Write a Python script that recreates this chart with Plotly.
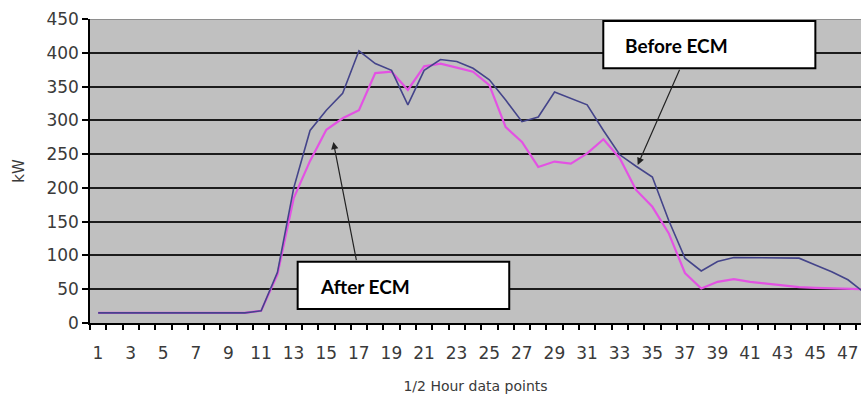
import plotly.graph_objects as go

# Half-hour demand profile, kW
points = list(range(1, 49))
before_ecm = [15, 15, 15, 15, 15, 15, 15, 15, 15, 15,
              18, 75, 200, 285, 315, 340, 403, 384, 374, 323,
              374, 390, 387, 377, 360, 330, 298, 305, 342, 333,
              323, 285, 249, 232, 216, 152, 96, 77, 91, 97,
              97, 97, 97, 96, 86, 76, 64, 45]
after_ecm = [15, 15, 15, 15, 15, 15, 15, 15, 15, 15,
             18, 72, 185, 240, 286, 303, 315, 370, 372, 345,
             380, 384, 378, 372, 352, 290, 268, 231, 239, 236,
             251, 272, 244, 197, 172, 133, 74, 51, 61, 65,
             61, 58, 55, 53, 52, 51, 50, 50]

y_ticks = list(range(0, 451, 50))
# tick marks sit on category boundaries; every other category is labelled
x_tick_vals = [k - 0.5 for k in points]
x_tick_text = [str(k) if k % 2 == 1 else "" for k in points]

fig = go.Figure()
fig.add_trace(go.Scatter(x=points, y=after_ecm, mode="lines", name="After ECM",
                         line=dict(color="#e352e3", width=2.2)))
fig.add_trace(go.Scatter(x=points, y=before_ecm, mode="lines", name="Before ECM",
                         line=dict(color="#44448a", width=1.6)))

fig.update_layout(
    width=861, height=394,
    margin=dict(l=90, r=0, t=19, b=71),
    paper_bgcolor="white", plot_bgcolor="#c0c0c0",
    showlegend=False,
    font=dict(family="DejaVu Sans", size=17, color="#3a3a3a"),
)

fig.update_xaxes(
    range=[0.5, 47.8],
    tickmode="array", tickvals=x_tick_vals, ticktext=x_tick_text,
    ticks="outside", ticklen=5, tickwidth=1.5, tickcolor="black",
    ticklabelshift=8, ticklabelstandoff=9,
    showgrid=False, zeroline=False,
    showline=True, linecolor="black", linewidth=1.5,
    title=dict(text="1/2 Hour data points", font=dict(size=14), standoff=19),
)

fig.update_yaxes(
    range=[0, 450],
    tickmode="array", tickvals=y_ticks,
    ticks="outside", ticklen=6, tickwidth=1.5, tickcolor="black",
    showgrid=False, zeroline=False,
    showline=True, linecolor="black", linewidth=1.5,
    minor=dict(tickmode="array", tickvals=y_ticks[1:-1], ticks="",
               showgrid=True, gridcolor="#1c1c1c", gridwidth=1.6),
    title=dict(text="kW", font=dict(size=15), standoff=18),
)

# top border of the plotting area
fig.add_shape(type="line", xref="paper", x0=0, x1=1, yref="y", y0=450, y1=450,
              line=dict(color="#8e8e8e", width=2))

# callout boxes
fig.add_shape(type="rect", xref="x", yref="y", x0=31.99, x1=45.0, y0=377, y1=447,
              fillcolor="white", line=dict(color="black", width=2), layer="above")
fig.add_shape(type="rect", xref="x", yref="y", x0=13.24, x1=26.22, y0=20.7, y1=90.7,
              fillcolor="white", line=dict(color="black", width=2), layer="above")

label_font = dict(family="Lato", size=19, color="black", weight=700)
fig.add_annotation(x=33.2, y=411.5, xref="x", yref="y", text="Before ECM",
                   showarrow=False, xanchor="left", yanchor="middle", font=label_font)
fig.add_annotation(x=14.49, y=53.7, xref="x", yref="y", text="After ECM",
                   showarrow=False, xanchor="left", yanchor="middle", font=label_font)

# pointer arrows
fig.add_annotation(x=34.1, y=before_ecm[33] + 2, ax=36.71, ay=377,
                   xref="x", yref="y", axref="x", ayref="y", text="",
                   showarrow=True, arrowhead=2, arrowsize=1.2, arrowwidth=1.2,
                   arrowcolor="#222222")
fig.add_annotation(x=15.43, y=268, ax=16.86, ay=90.7,
                   xref="x", yref="y", axref="x", ayref="y", text="",
                   showarrow=True, arrowhead=2, arrowsize=1.2, arrowwidth=1.2,
                   arrowcolor="#222222")

fig.write_html("out.html")
